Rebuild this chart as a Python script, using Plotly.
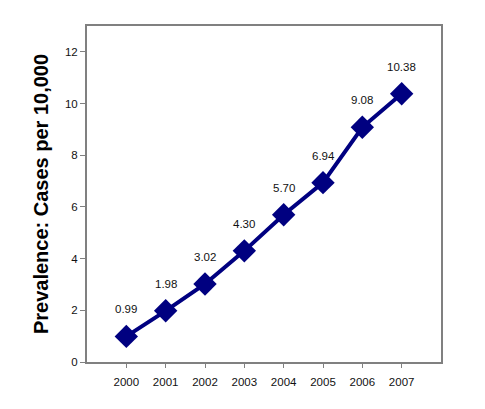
import plotly.graph_objects as go

years = [2000, 2001, 2002, 2003, 2004, 2005, 2006, 2007]
prevalence = [0.99, 1.98, 3.02, 4.30, 5.70, 6.94, 9.08, 10.38]
labels = ["0.99", "1.98", "3.02", "4.30", "5.70", "6.94", "9.08", "10.38"]

NAVY = "#000080"
FONT = "Liberation Sans, Arial, sans-serif"

fig = go.Figure()
fig.add_trace(go.Scatter(
    x=years, y=prevalence,
    mode="lines+markers",
    line=dict(color=NAVY, width=4),
    marker=dict(symbol="diamond", size=18, color=NAVY),
    cliponaxis=False,
    showlegend=False,
))

# value labels above each point
for x, y, t in zip(years, prevalence, labels):
    fig.add_annotation(x=x, y=y, text=t, showarrow=False, yshift=27,
                       font=dict(family=FONT, size=11.5, color="#111111"))

fig.update_xaxes(
    range=[1999, 2008],
    tickvals=years,
    ticktext=[str(y) for y in years],
    ticks="outside", ticklen=4, tickcolor="#808080", ticklabelstandoff=4,
    showline=True, linecolor="#808080", linewidth=2, mirror=True,
    showgrid=False, zeroline=False, automargin=False,
    tickfont=dict(family=FONT, size=11.5, color="#111111"),
)
fig.update_yaxes(
    range=[0, 13],
    tickvals=[0, 2, 4, 6, 8, 10, 12],
    ticks="outside", ticklen=5, tickcolor="#808080",
    showline=True, linecolor="#808080", linewidth=2, mirror=True,
    showgrid=False, zeroline=False, automargin=False,
    tickfont=dict(family=FONT, size=11.5, color="#111111"),
    title=dict(text="<b>Prevalence: Cases per 10,000</b>",
               font=dict(family=FONT, size=20, color="#000000"), standoff=11),
)
# page body adds an 8px offset, so margins are shifted by it
fig.update_layout(
    width=485, height=409,
    paper_bgcolor="white", plot_bgcolor="white",
    margin=dict(l=79, r=52, t=18, b=55),
)

fig.write_html("out.html")
